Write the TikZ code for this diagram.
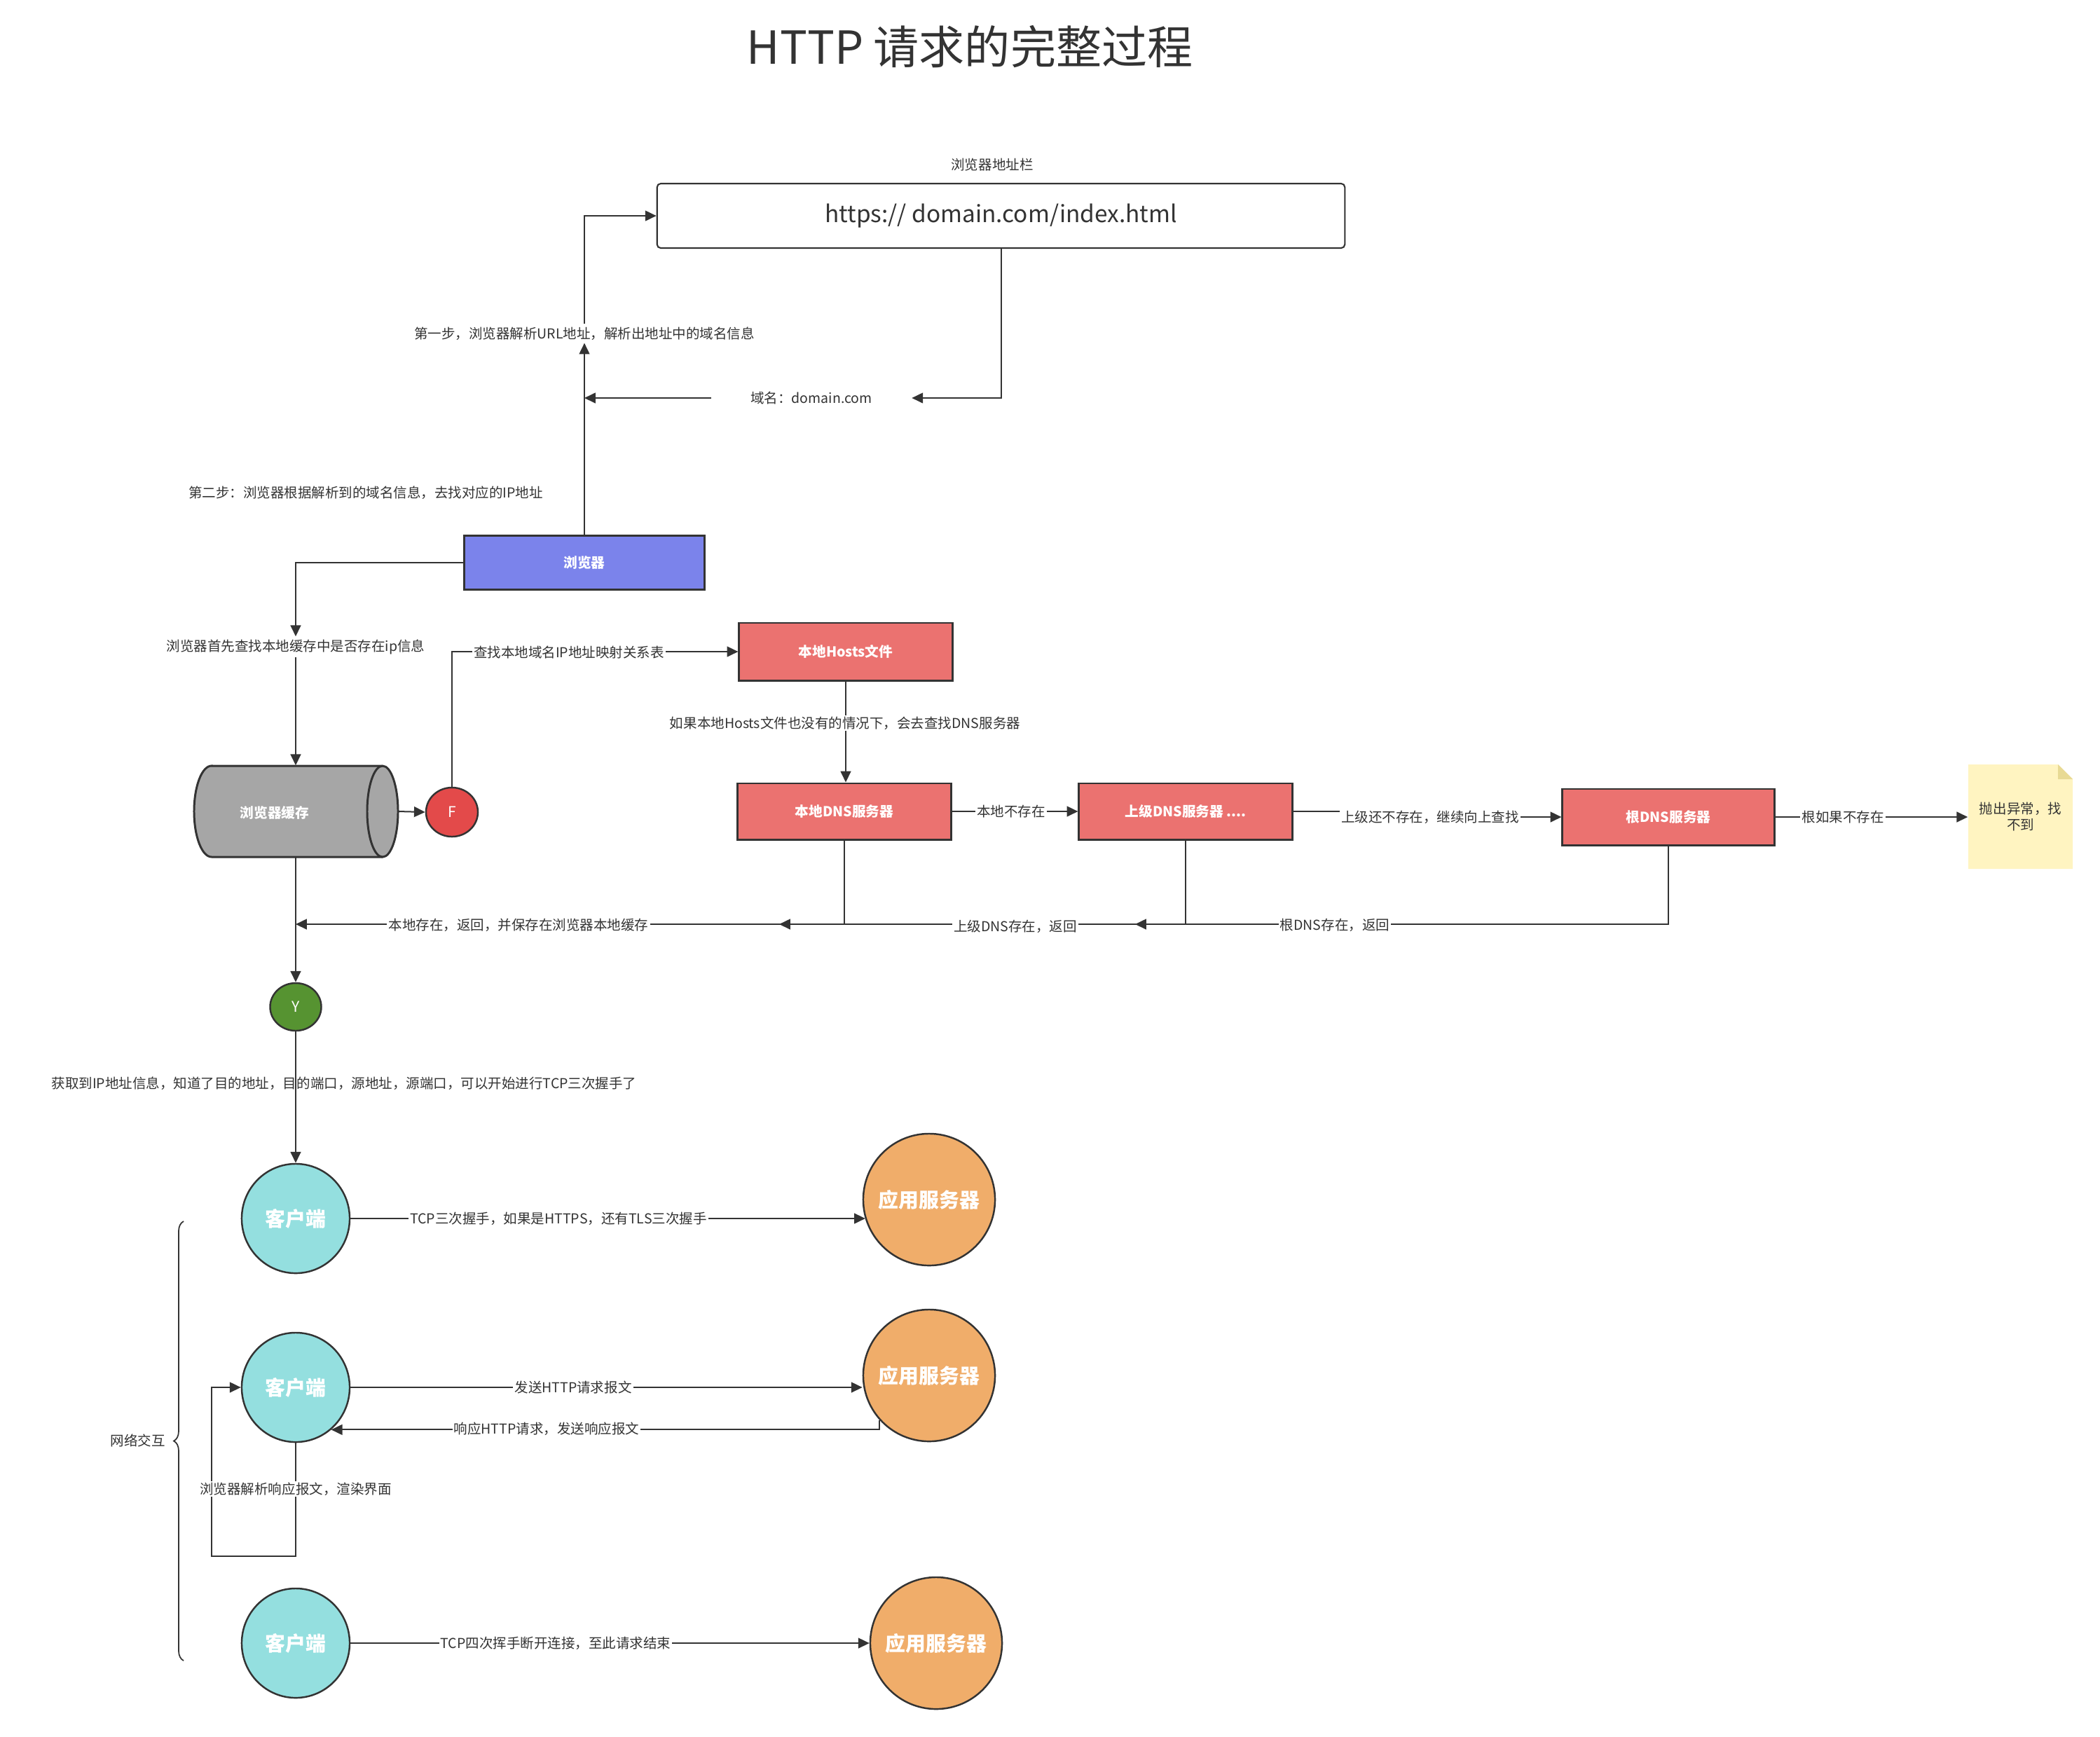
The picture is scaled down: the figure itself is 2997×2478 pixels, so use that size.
\documentclass[tikz,border=0pt]{standalone}
\usepackage{fontspec}
\setmainfont{Noto Sans CJK SC}
\usetikzlibrary{arrows.meta,shapes.geometric,decorations.pathreplacing,calc}
\definecolor{lc}{HTML}{333333}
\definecolor{tc}{HTML}{333333}
\definecolor{cblue}{HTML}{7B83EB}
\definecolor{cred}{HTML}{EB7270}
\definecolor{cgray}{HTML}{A6A6A6}
\definecolor{fred}{HTML}{E34A4A}
\definecolor{ygreen}{HTML}{569331}
\definecolor{ccyan}{HTML}{94DFDF}
\definecolor{corange}{HTML}{F0AD6A}
\definecolor{nyellow}{HTML}{FFF4C1}
\definecolor{nfold}{HTML}{E8DA94}
\begin{document}
\begin{tikzpicture}[x=0.01cm,y=0.01cm,
  line/.style={draw=lc, line width=0.57pt},
  arr/.style={line, -{Triangle[length=4.5pt,width=4.2pt]}},
  lbl/.style={font=\fontsize{5.55pt}{6.6pt}\selectfont, text=tc, inner sep=1pt},
  elab/.style={lbl, fill=white, inner sep=0.6pt},
  box/.style={draw=lc, line width=0.85pt, font=\fontsize{5.6pt}{7pt}\selectfont\bfseries, text=white, inner sep=0pt},
  circ/.style={ellipse, draw=lc, line width=0.7pt, inner sep=0pt, text=white},
  big/.style={font=\fontsize{8.2pt}{10pt}\selectfont\bfseries},
  small/.style={font=\fontsize{6pt}{7pt}\selectfont}]
\useasboundingbox (0,0) rectangle (2997,-2478);
\fill[white] (0,0) rectangle (2997,-2478);

% title and address bar
\node[font=\fontsize{18.5pt}{22pt}\selectfont, text=tc] (title) at (1384,-67) {HTTP 请求的完整过程};
\node[lbl] (barlbl) at (1416,-235) {浏览器地址栏};
\node[draw=lc, line width=0.6pt, rounded corners=1.5pt, minimum width=9.81cm, minimum height=0.92cm, font=\fontsize{9.5pt}{12pt}\selectfont, text=tc] (url) at (1428.5,-308) {https:// domain.com/index.html};

% browser
\node[box, fill=cblue, minimum width=3.42cm, minimum height=0.77cm] (browser) at (834,-803) {浏览器};
\node[lbl, fill=white] (step1) at (834,-476) {第一步，浏览器解析URL地址，解析出地址中的域名信息};
\node[lbl, fill=white, minimum width=2.85cm] (dom) at (1158,-568) {域名：domain.com};
\node[lbl] (step2) at (522,-703) {第二步：浏览器根据解析到的域名信息，去找对应的IP地址};
\coordinate (j1) at (834,-568);
\draw[arr] (browser.north) -- (step1.south);
\draw[arr] (step1.north) |- (url.west);
\draw[arr] (url.south) |- (dom.east);
\draw[arr] (dom.west) -- (j1);

% cache
\node[lbl] (cachelbl) at (422,-923) {浏览器首先查找本地缓存中是否存在ip信息};
\draw[arr] (browser.west) -| (cachelbl.north);
\path[fill=cgray, draw=lc, line width=0.85pt] (302,-1093) -- (546,-1093) arc[start angle=90, end angle=-90, x radius=0.22cm, y radius=0.65cm] -- (302,-1223) arc[start angle=270, end angle=90, x radius=0.25cm, y radius=0.65cm] -- cycle;
\draw[lc, line width=0.85pt] (546,-1093) arc[start angle=90, end angle=270, x radius=0.22cm, y radius=0.65cm];
\node[minimum width=2.91cm, minimum height=1.30cm, inner sep=0pt] (cache) at (422,-1158) {};
\node[font=\fontsize{5.6pt}{7pt}\selectfont\bfseries, text=white] (cachetxt) at (392,-1160) {浏览器缓存};
\draw[arr] (cachelbl.south) -- (cache.north);

% F and hosts
\node[circ, fill=fred, minimum width=0.74cm, minimum height=0.70cm, small] (F) at (645,-1159) {F};
\draw[arr] (cache.east) -- (F.west);
\node[box, fill=cred, minimum width=3.04cm, minimum height=0.82cm] (hosts) at (1207,-930) {本地Hosts文件};
\draw[arr] (F.north) |- (hosts.west);
\node[elab] (lF) at (812,-931) {查找本地域名IP地址映射关系表};

% DNS chain
\node[box, fill=cred, minimum width=3.04cm, minimum height=0.80cm] (ldns) at (1205,-1158) {本地DNS服务器};
\draw[arr] (hosts.south) -- (hosts.south |- ldns.north);
\node[elab] (lH) at (1206,-1032) {如果本地Hosts文件也没有的情况下，会去查找DNS服务器};
\node[box, fill=cred, minimum width=3.04cm, minimum height=0.80cm] (udns) at (1692,-1158) {上级DNS服务器 ....};
\draw[arr] (ldns.east) -- (udns.west);
\node[elab] (lL) at (1443,-1158) {本地不存在};
\node[box, fill=cred, minimum width=3.02cm, minimum height=0.80cm] (root) at (2381,-1166) {根DNS服务器};
\draw[arr] (udns.east) -- (1990,-1158) |- (root.west);
\node[elab] (lU) at (2041,-1166) {上级还不存在，继续向上查找};

% note
\fill[nyellow] (2809,-1091) -- (2937,-1091) -- (2958,-1112) -- (2958,-1240) -- (2809,-1240) -- cycle;
\fill[nfold] (2937,-1091) -- (2937,-1112) -- (2958,-1112) -- cycle;
\node[lbl, align=center, minimum width=1.49cm, minimum height=1.49cm] (note) at (2883.5,-1165.5) {抛出异常，找\\不到};
\draw[arr] (root.east) -- (note.west |- root.east);
\node[elab] (lR) at (2630,-1166) {根如果不存在};

% returns
\coordinate (r1) at (1620,-1319);
\coordinate (r2) at (1112,-1319);
\coordinate (r3) at (422,-1319);
\draw[arr] (root.south) |- (r1);
\draw[arr] (udns.south) |- (r2);
\draw[arr] (ldns.south) |- (r3);
\node[elab] (lr1) at (1905,-1320) {根DNS存在，返回};
\node[elab] (lr2) at (1449,-1322) {上级DNS存在，返回};
\node[elab] (lr3) at (740,-1320) {本地存在，返回，并保存在浏览器本地缓存};

% Y
\node[circ, fill=ygreen, minimum width=0.73cm, minimum height=0.68cm, small] (Y) at (422,-1437) {Y};
\draw[arr] (cache.south) -- (Y.north);

% clients and servers
\node[circ, fill=ccyan, minimum width=1.54cm, minimum height=1.56cm, big] (c1) at (422,-1739) {\makebox[0pt]{客户端}};
\node[circ, fill=corange, minimum width=1.88cm, minimum height=1.88cm, big] (s1) at (1326,-1712) {\makebox[0pt]{应用服务器}};
\draw[arr] (Y.south) -- (c1.north);
\node[lbl] (lY) at (491,-1546) {获取到IP地址信息，知道了目的地址，目的端口，源地址，源端口，可以开始进行TCP三次握手了};
\draw[arr] (c1.east) -- (c1.east -| s1.197);
\node[elab] (l1) at (797,-1739) {TCP三次握手，如果是HTTPS，还有TLS三次握手};

\node[circ, fill=ccyan, minimum width=1.54cm, minimum height=1.56cm, big] (c2) at (422,-1980) {\makebox[0pt]{客户端}};
\node[circ, fill=corange, minimum width=1.88cm, minimum height=1.88cm, big] (s2) at (1326,-1963) {\makebox[0pt]{应用服务器}};
\draw[arr] (c2.east) -- (c2.east -| s2.west);
\node[elab] (l2) at (818,-1980) {发送HTTP请求报文};
\draw[arr] (s2.222) |- (c2.-50);
\node[elab] (l3) at (780,-2039) {响应HTTP请求，发送响应报文};
\draw[arr] (c2.south) |- (302,-2221) |- (c2.west);
\node[elab] (l4) at (422,-2125) {浏览器解析响应报文，渲染界面};

\node[circ, fill=ccyan, minimum width=1.54cm, minimum height=1.56cm, big] (c3) at (422,-2345) {\makebox[0pt]{客户端}};
\node[circ, fill=corange, minimum width=1.88cm, minimum height=1.88cm, big] (s3) at (1336,-2345) {\makebox[0pt]{应用服务器}};
\draw[arr] (c3.east) -- (s3.west);
\node[elab] (l5) at (793,-2345) {TCP四次挥手断开连接，至此请求结束};

% brace
\draw[lc, line width=0.5pt, decorate, decoration={brace, amplitude=0.14cm}] (262,-2370) -- (262,-1743);
\node[lbl, anchor=east] (net) at (240,-2056) {网络交互};
\end{tikzpicture}
\end{document}
